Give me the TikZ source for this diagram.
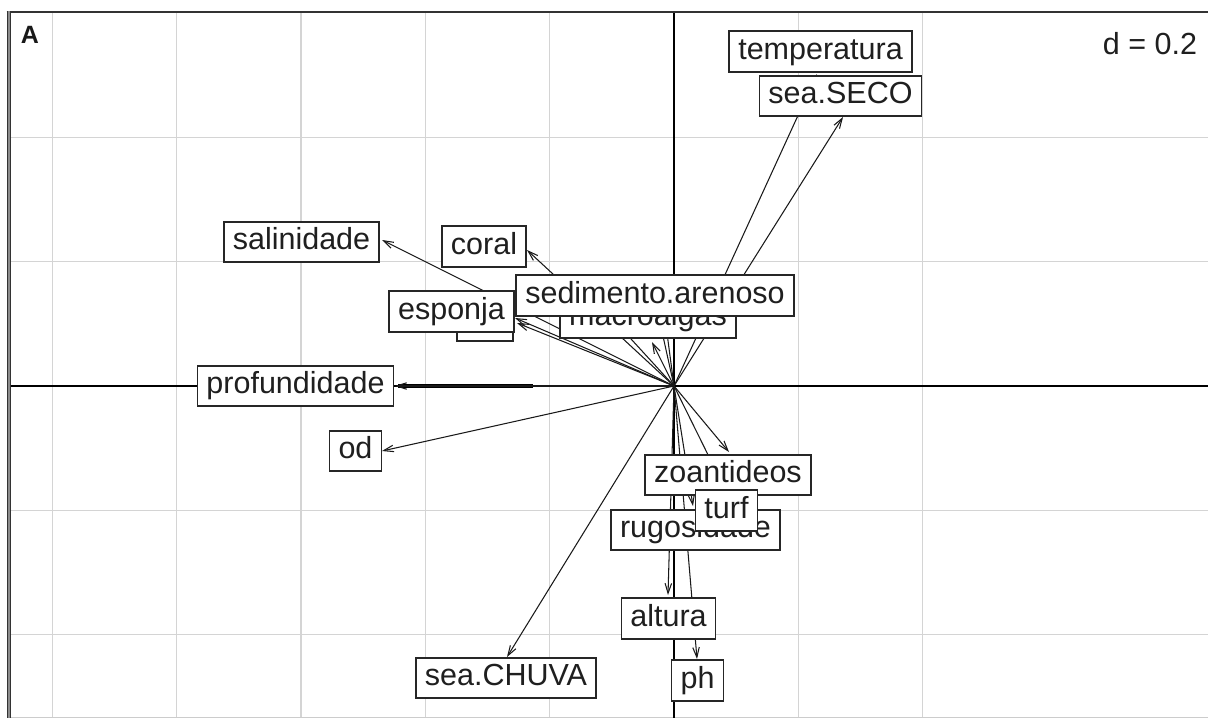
\documentclass[tikz,border=0pt]{standalone}
\usepackage{fontspec}
\setmainfont{Liberation Sans}
\usetikzlibrary{arrows.meta}
\begin{document}
\begin{tikzpicture}[x=1pt,y=-1pt,
  gridline/.style={draw=black!17, line width=1.3pt},
  axisline/.style={draw=black, line width=1.3pt},
  arr/.style={draw=black!90, line width=1.05pt, -{Straight Barb[length=10pt,width=6.5pt]}},
  lab/.style={draw=black!85, fill=white, line width=1.6pt, inner xsep=9pt, inner ysep=6pt,
    text height=22pt, text depth=6.5pt, font=\fontsize{30.5}{36}\selectfont, text=black!88}]
\useasboundingbox (0,0) rectangle (1208,718);
\fill[white] (0,0) rectangle (1208,718);
% grid
\foreach \x in {52.5,176.8,301.1,425.4,549.7,798.3,922.6}
  \draw[gridline] (\x,12) -- (\x,718);
\foreach \y in {137.4,261.7,510.3,634.6}
  \draw[gridline] (9,\y) -- (1208,\y);
\draw[black!20, line width=1pt] (9,717.3) -- (1208,717.3);
% axes
\draw[axisline] (674,12) -- (674,718);
\draw[axisline] (9,386) -- (1208,386);
% frame
\draw[black!80, line width=1.8pt] (6.6,12) -- (1208,12);
\draw[black!45, line width=3pt] (9,11) -- (9,718);
\draw[black!80, line width=1.3pt] (7.3,11) -- (7.3,718);
\draw[black!80, line width=1.3pt] (10.8,11) -- (10.8,718);
% origin and arrow tips
\coordinate (O) at (674,386);
\coordinate (tsal) at (382,240);
\coordinate (tcor) at (527,250);
\coordinate (tesp) at (515,318);
\coordinate (thid) at (517,323);
\coordinate (tsed) at (600,305);
\coordinate (tmac) at (652,342);
\coordinate (tx1) at (659,318);
\coordinate (tx2) at (665,318);
\coordinate (tpro) at (395,386);
\coordinate (tpro2) at (533,386);
\coordinate (tod) at (382,451);
\coordinate (ttem) at (817,74);
\coordinate (tsse) at (843,117);
\coordinate (tsch) at (507,657);
\coordinate (tzoa) at (729,452);
\coordinate (ttur) at (720,479);
\coordinate (trug) at (693,506);
\coordinate (talt) at (668,595);
\coordinate (tph) at (697,659);
% arrows
\draw[arr] (O) -- (tsal);
\draw[arr] (O) -- (tcor);
\draw[arr] (O) -- (tesp);
\draw[arr] (O) -- (thid);
\draw[arr] (O) -- (tsed);
\draw[arr] (O) -- (tmac);
\draw[arr] (O) -- (tx1);
\draw[arr] (O) -- (tx2);
\draw[black, line width=3.6pt] (tpro2) -- ([xshift=3pt]tpro);
\draw[arr] (O) -- (tpro);
\draw[arr] (O) -- (tod);
\draw[arr] (O) -- (ttem);
\draw[arr] (O) -- (tsse);
\draw[arr] (O) -- (tsch);
\draw[arr] (O) -- (tzoa);
\draw[arr] (O) -- (ttur);
\draw[arr] (O) -- (trug);
\draw[arr] (O) -- (talt);
\draw[arr] (O) -- (tph);
% labels
\node[lab] (temperatura) at (820.5,51.5) {temperatura};
\node[lab] (seaSECO) at (840.5,96) {sea.SECO};
\node[lab] (salinidade) at (301.5,242) {salinidade};
\node[lab] (coral) at (484,246.5) {coral};
\node[lab] (macroalgas) at (648,318) {macroalgas};
\node[lab] (sedimento) at (655,295.5) {sedimento.arenoso};
\node[lab, minimum width=56pt, inner xsep=0pt] (hidden) at (485,320.5) {};
\node[lab] (esponja) at (451.5,311.5) {esponja};
\node[lab] (profundidade) at (295.5,386) {profundidade};
\node[lab] (od) at (355.5,451) {od};
\node[lab] (zoantideos) at (728,475) {zoantideos};
\node[lab] (rugosidade) at (695.5,530) {rugosidade};
\node[lab] (turf) at (726.5,510.5) {turf};
\node[lab] (altura) at (668.5,618.5) {altura};
\node[lab] (ph) at (697.5,680.5) {ph};
\node[lab] (seaCHUVA) at (506,678) {sea.CHUVA};
% titles
\node[font=\bfseries\fontsize{25}{30}\selectfont, text=black!90] (A) at (30,35) {A};
\node[font=\fontsize{30.5}{36}\selectfont, text=black!88] (dval) at (1150,44) {d = 0.2};
\end{tikzpicture}
\end{document}
